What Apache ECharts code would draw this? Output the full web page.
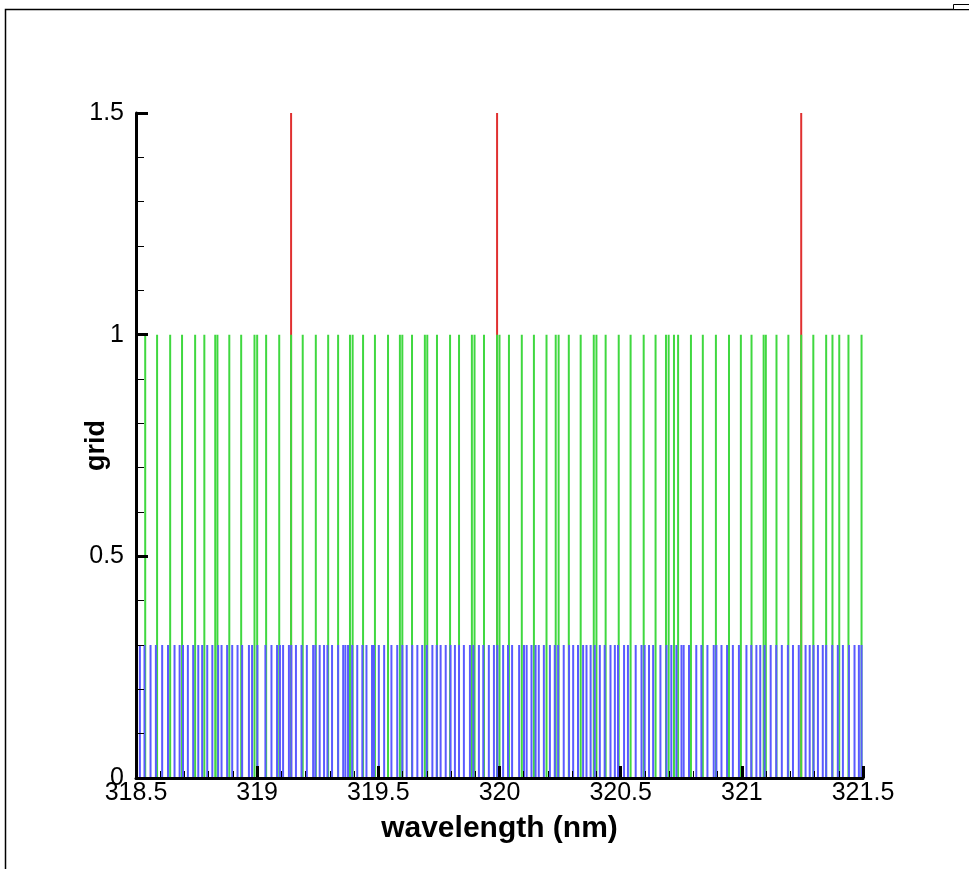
<!DOCTYPE html>
<html>
<head>
<meta charset="utf-8">
<script src="https://cdn.jsdelivr.net/npm/echarts@6/dist/echarts.min.js"></script>
<style>
  html, body { margin: 0; padding: 0; background: #fff; }
  #chart { width: 969px; height: 869px; }
</style>
</head>
<body>
<div id="chart"></div>
<script>
// line positions in nm
const redWavelengths = [319.140, 319.990, 321.245];
const greenWavelengths = [
  318.538, 318.587, 318.641, 318.690, 318.744, 318.782, 318.827, 318.836, 318.885, 318.934,
  318.989, 319.000, 319.037, 319.091, 319.140, 319.188, 319.242, 319.293, 319.334, 319.383,
  319.394, 319.437, 319.486, 319.540, 319.589, 319.599, 319.639, 319.692, 319.702, 319.742,
  319.796, 319.833, 319.886, 319.897, 319.936, 319.990, 320.000, 320.039, 320.092, 320.142,
  320.194, 320.232, 320.244, 320.286, 320.335, 320.389, 320.400, 320.438, 320.492, 320.541,
  320.595, 320.644, 320.687, 320.698, 320.720, 320.737, 320.790, 320.839, 320.893, 320.947,
  320.996, 321.040, 321.090, 321.099, 321.143, 321.192, 321.245, 321.295, 321.348, 321.374,
  321.402, 321.440, 321.494
];
const blueWavelengths = [
  318.516, 318.535, 318.560, 318.582, 318.608, 318.632, 318.659, 318.680, 318.694, 318.714,
  318.736, 318.757, 318.773, 318.794, 318.815, 318.839, 318.853, 318.876, 318.897, 318.919,
  318.938, 318.966, 318.979, 319.001, 319.034, 319.059, 319.082, 319.094, 319.107, 319.131,
  319.141, 319.160, 319.183, 319.205, 319.231, 319.240, 319.258, 319.276, 319.290, 319.309,
  319.334, 319.355, 319.364, 319.375, 319.392, 319.413, 319.434, 319.451, 319.474, 319.482,
  319.502, 319.524, 319.554, 319.578, 319.599, 319.617, 319.640, 319.661, 319.681, 319.700,
  319.723, 319.741, 319.757, 319.778, 319.798, 319.816, 319.833, 319.853, 319.878, 319.892,
  319.915, 319.933, 319.956, 319.977, 319.991, 320.015, 320.035, 320.052, 320.081, 320.101,
  320.112, 320.132, 320.149, 320.162, 320.183, 320.208, 320.228, 320.242, 320.265, 320.287,
  320.304, 320.324, 320.345, 320.359, 320.376, 320.393, 320.414, 320.434, 320.458, 320.476,
  320.489, 320.514, 320.530, 320.562, 320.586, 320.599, 320.617, 320.634, 320.664, 320.689,
  320.709, 320.730, 320.751, 320.760, 320.782, 320.812, 320.833, 320.858, 320.884, 320.895,
  320.916, 320.939, 320.963, 320.988, 321.019, 321.039, 321.060, 321.076, 321.094, 321.119,
  321.142, 321.165, 321.190, 321.211, 321.235, 321.263, 321.280, 321.296, 321.314, 321.334,
  321.348, 321.373, 321.396, 321.417, 321.442, 321.465, 321.483, 321.494
];
const redHeight = 1.5;
const greenHeight = 1;
const blueHeight = 0.3;

const chart = echarts.init(document.getElementById("chart"));

// draws each value as a vertical stick from 0 up to its height
function sticks(name, xs, h, color) {
  return {
    name: name,
    type: "custom",
    silent: true,
    z: 2,
    data: xs.map((x) => [x, h]),
    renderItem: (params, api) => {
      const top = api.coord([api.value(0), api.value(1)]);
      const bottom = api.coord([api.value(0), 0]);
      return {
        type: "line",
        shape: { x1: top[0], y1: top[1], x2: bottom[0], y2: bottom[1] },
        style: { stroke: color, lineWidth: 2 },
      };
    },
  };
}

const font = "Liberation Sans, Arial, sans-serif";

const option = {
  animation: false,
  backgroundColor: "#fff",
  grid: { left: 136, right: 106, top: 113, bottom: 91 },
  xAxis: {
    type: "value",
    min: 318.5,
    max: 321.5,
    interval: 0.5,
    z: 10,
    name: "wavelength (nm)",
    nameLocation: "middle",
    nameGap: 36,
    nameMoveOverlap: false,
    nameTextStyle: { color: "#000", fontSize: 30, fontWeight: "bold", fontFamily: font },
    axisLine: { lineStyle: { color: "#000", width: 3 } },
    axisTick: { inside: true, length: 12, lineStyle: { color: "#000", width: 3 } },
    minorTick: { show: true, splitNumber: 5, length: 7, lineStyle: { color: "#000", width: 1 } },
    axisLabel: { color: "#000", fontSize: 25, fontFamily: font, margin: 3 },
    splitLine: { show: false },
  },
  yAxis: {
    type: "value",
    min: 0,
    max: 1.5,
    interval: 0.5,
    z: 10,
    name: "grid",
    nameLocation: "middle",
    nameGap: 26,
    nameMoveOverlap: false,
    nameTextStyle: { color: "#000", fontSize: 27, fontWeight: "bold", fontFamily: font },
    axisLine: { show: true, lineStyle: { color: "#000", width: 3 } },
    axisTick: { show: true, inside: true, length: 12, lineStyle: { color: "#000", width: 3 } },
    minorTick: { show: true, splitNumber: 5, length: 8, lineStyle: { color: "#000", width: 1 } },
    axisLabel: { color: "#000", fontSize: 25, fontFamily: font, margin: 12 },
    splitLine: { show: false },
  },
  graphic: [
    {
      type: "rect",
      shape: { x: 5.5, y: 9.5, width: 1000, height: 1000 },
      style: { fill: null, stroke: "#000", lineWidth: 1.5 },
      silent: true,
    },
    {
      type: "rect",
      shape: { x: 953.5, y: 4.5, width: 30, height: 5 },
      style: { fill: "#fff", stroke: "#000", lineWidth: 1 },
      silent: true,
    },
  ],
  series: [
    sticks("red", redWavelengths, redHeight, "#e03030"),
    sticks("green", greenWavelengths, greenHeight, "#40d840"),
    sticks("blue", blueWavelengths, blueHeight, "#5a5aff"),
  ],
};

option && chart.setOption(option);
</script>
</body>
</html>
